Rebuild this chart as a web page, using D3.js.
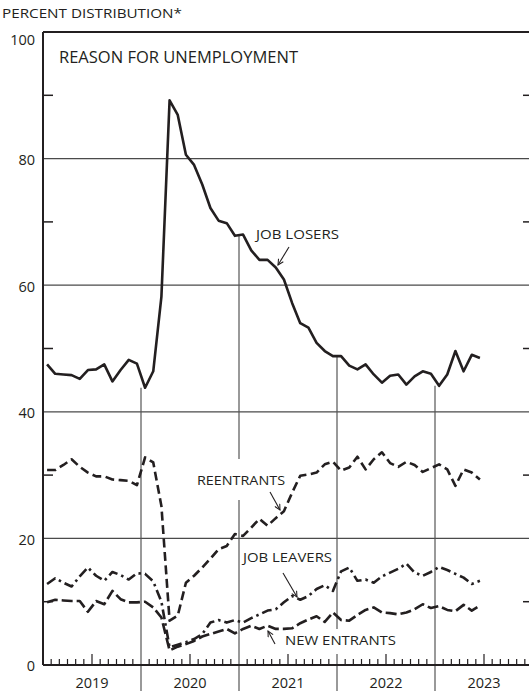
<!DOCTYPE html>
<html><head><meta charset="utf-8">
<script src="https://cdn.jsdelivr.net/npm/d3@7"></script>
<style>
html,body{margin:0;padding:0;background:#fff;}
svg{display:block;font-family:"Open Sans",sans-serif;}
</style></head>
<body>
<svg id="chart" width="529" height="691"></svg>
<script>
const years = ["2019","2020","2021","2022","2023"];
const yTickLabels = [0,20,40,60,80,100];
const jobLosers = [47.5,46.0,45.9,45.8,45.2,46.6,46.7,47.5,44.8,46.6,48.2,47.6,
  43.8,46.4,58.2,89.2,86.9,80.6,79.0,75.9,72.2,70.2,69.8,67.8,
  68.0,65.5,64.0,64.0,62.8,60.9,57.2,54.0,53.3,50.9,49.6,48.8,
  48.8,47.3,46.7,47.5,45.9,44.6,45.7,45.9,44.3,45.6,46.4,46.0,
  44.1,45.9,49.6,46.4,49.0,48.5];
const reentrants = [30.8,30.8,31.6,32.5,31.3,30.4,29.8,29.8,29.3,29.2,29.1,28.4,
  32.8,32.0,25.1,7.0,7.8,13.0,14.1,15.4,16.8,18.3,18.8,20.7,
  20.4,21.7,23.1,22.0,23.2,24.3,27.2,29.9,30.1,30.4,31.7,32.1,
  30.7,31.2,32.9,30.9,32.5,33.6,31.9,31.3,32.1,31.6,30.5,31.1,
  31.7,30.9,28.3,30.9,30.4,29.3];
const jobLeavers = [12.8,13.7,13.0,12.4,14.0,15.4,14.1,13.3,14.7,14.2,13.5,14.5,
  14.4,13.2,10.0,2.8,3.2,3.6,4.1,4.9,6.7,7.1,6.7,7.1,
  6.7,7.4,8.0,8.6,8.8,9.9,10.9,10.3,10.9,12.0,12.6,11.7,
  14.8,15.4,13.3,13.5,13.0,14.0,14.6,15.2,16.0,14.6,14.1,14.7,
  15.5,15.0,14.4,13.8,12.8,13.3];
const newEntrants = [9.9,10.3,10.2,10.1,10.1,8.4,10.1,9.6,11.7,10.4,9.9,9.9,
  10.0,9.1,7.5,2.3,2.9,3.3,3.8,4.5,4.9,5.3,5.7,5.0,
  5.7,6.2,5.7,6.2,5.7,5.7,5.8,6.6,7.2,7.7,6.8,8.3,
  7.1,7.0,7.9,8.7,9.1,8.3,8.2,8.0,8.3,8.8,9.6,9.0,
  9.3,8.7,8.5,9.5,8.6,9.4];

const ink = "#231f20";
const svg = d3.select("#chart");
const x = d3.scaleLinear().domain([0, 60]).range([43, 533]);
const y = d3.scaleLinear().domain([0, 100]).range([665, 32]);
const L = x(0), R = x(60);

// gridlines
svg.append("g").selectAll("line").data([20,40,60,80]).join("line")
  .attr("x1", L).attr("x2", R).attr("y1", d => y(d)).attr("y2", d => y(d))
  .attr("stroke", "#4a4a4a").attr("stroke-width", 1.2);
// minor y ticks left & right
const minor = [10,30,50,70,90];
svg.append("g").selectAll("line").data(minor).join("line")
  .attr("x1", L).attr("x2", L + 10).attr("y1", d => y(d)).attr("y2", d => y(d))
  .attr("stroke", ink).attr("stroke-width", 1.5);
svg.append("g").selectAll("line").data(minor).join("line")
  .attr("x1", R - 10).attr("x2", R).attr("y1", d => y(d)).attr("y2", d => y(d))
  .attr("stroke", ink).attr("stroke-width", 1.5);

// year separator lines (from job losers line down to bottom)
const yearBounds = [12, 24, 36, 48];
svg.append("g").selectAll("line").data(yearBounds).join("line")
  .attr("x1", d => x(d)).attr("x2", d => x(d))
  .attr("y1", d => y(Math.min(jobLosers[d-1], jobLosers[d])))
  .attr("y2", 691)
  .attr("stroke", "#555").attr("stroke-width", 1.2);

// label knockouts
svg.append("rect").attr("x", 190).attr("y", 459).attr("width", 100).attr("height", 41).attr("fill", "#fff");
svg.append("rect").attr("x", 282).attr("y", 629).attr("width", 118).attr("height", 25).attr("fill", "#fff");

// month ticks
const months = d3.range(1, 60).filter(k => k % 12 !== 0);
svg.append("g").selectAll("line").data(months).join("line")
  .attr("x1", d => x(d)).attr("x2", d => x(d))
  .attr("y1", y(0)).attr("y2", d => y(0) - (d % 12 === 6 ? 11 : 6))
  .attr("stroke", ink).attr("stroke-width", 1.2);

// frame: left axis, top, bottom
svg.append("line").attr("x1", L).attr("x2", L).attr("y1", y(100)).attr("y2", y(0))
  .attr("stroke", ink).attr("stroke-width", 2);
svg.append("line").attr("x1", L).attr("x2", R).attr("y1", y(100)).attr("y2", y(100))
  .attr("stroke", ink).attr("stroke-width", 2);
svg.append("line").attr("x1", L).attr("x2", R).attr("y1", y(0)).attr("y2", y(0))
  .attr("stroke", ink).attr("stroke-width", 2);

// y axis labels
const yAxis = d3.axisLeft(y).tickValues(yTickLabels).tickSize(0).tickPadding(8);
const gy = svg.append("g").attr("transform", `translate(${L},0)`).call(yAxis);
gy.select(".domain").remove();
gy.selectAll("text").attr("font-size", 14.5).attr("fill", ink)
  .attr("font-family", "'Open Sans',sans-serif")
  .attr("dy", d => d === 100 ? "0.85em" : "0.4em");

// year labels
svg.append("g").selectAll("text").data(years).join("text")
  .attr("x", (d, i) => x(i * 12 + 6)).attr("y", 688)
  .attr("text-anchor", "middle").attr("font-size", 14.5).attr("fill", ink)
  .text(d => d);

// lines
const line = d3.line().x((d, i) => x(i + 0.5)).y(d => y(d));
function drawSeries(data, dash) {
  svg.append("path").datum(data).attr("d", line)
    .attr("fill", "none").attr("stroke", ink).attr("stroke-width", 2.6)
    .attr("stroke-linejoin", "round")
    .attr("stroke-dasharray", dash);
}
drawSeries(newEntrants, "11,4");
drawSeries(jobLeavers, "10,4,2.5,4");
drawSeries(reentrants, "9,4.5");
drawSeries(jobLosers, null);

// texts
svg.append("text").attr("x", 2).attr("y", 18).attr("font-size", 13)
  .attr("textLength", 180).attr("lengthAdjust", "spacingAndGlyphs")
  .attr("fill", ink).text("PERCENT DISTRIBUTION*");
svg.append("text").attr("x", 59).attr("y", 63).attr("font-size", 15.5)
  .attr("textLength", 239).attr("lengthAdjust", "spacingAndGlyphs")
  .attr("fill", ink).text("REASON FOR UNEMPLOYMENT");

const labels = [
  {t: "JOB LOSERS", x: 256, y: 239, w: 83},
  {t: "REENTRANTS", x: 197, y: 485, w: 88},
  {t: "JOB LEAVERS", x: 243, y: 562, w: 89},
  {t: "NEW ENTRANTS", x: 285, y: 645, w: 111}
];
svg.append("g").selectAll("text").data(labels).join("text")
  .attr("x", d => d.x).attr("y", d => d.y).attr("font-size", 13.5)
  .attr("textLength", d => d.w).attr("lengthAdjust", "spacingAndGlyphs")
  .attr("fill", ink).text(d => d.t);

// arrows
const defs = svg.append("defs");
defs.append("marker").attr("id", "ah").attr("viewBox", "0 0 10 10")
  .attr("refX", 9).attr("refY", 5).attr("markerWidth", 7).attr("markerHeight", 7)
  .attr("markerUnits", "userSpaceOnUse").attr("orient", "auto")
  .append("path").attr("d", "M1,1 L9,5 L1,9").attr("fill", "none")
  .attr("stroke", ink).attr("stroke-width", 1.5);
const arrows = [
  [289, 247, 278, 265],
  [270, 492, 280, 510],
  [283, 573, 297, 597],
  [275, 644, 268, 631]
];
svg.append("g").selectAll("line").data(arrows).join("line")
  .attr("x1", d => d[0]).attr("y1", d => d[1]).attr("x2", d => d[2]).attr("y2", d => d[3])
  .attr("stroke", ink).attr("stroke-width", 1.1).attr("marker-end", "url(#ah)");
</script>
</body></html>
